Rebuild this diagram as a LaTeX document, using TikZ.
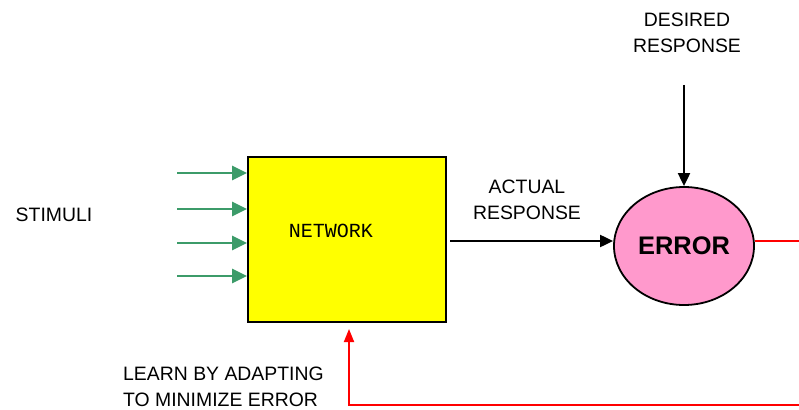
\documentclass[tikz,border=0pt]{standalone}
\usepackage{fontspec}
\setmainfont{Liberation Sans}
\newfontfamily\monofont{Liberation Mono}
\usetikzlibrary{arrows.meta,shapes.geometric}
\definecolor{netyellow}{RGB}{255,255,0}
\definecolor{errpink}{RGB}{255,153,204}
\definecolor{stimgreen}{RGB}{60,155,105}
\tikzset{
  label text/.style={align=center,font=\fontsize{19.4}{25.5}\selectfont,inner sep=0pt},
  stim arrow/.style={stimgreen,line width=2.6pt,-{Triangle[length=15pt,width=14pt]}},
  black arrow/.style={black,line width=2pt,-{Triangle[length=13pt,width=12pt]}},
  red arrow/.style={red,line width=1.8pt,-{Triangle[length=13pt,width=10pt]}},
}
\begin{document}
\begin{tikzpicture}[x=1pt,y=-1pt]
\useasboundingbox (0,0) rectangle (799,409);
\clip (0,0) rectangle (799,409);

% network block
\node[draw=black,line width=2pt,fill=netyellow,minimum width=198pt,minimum height=165pt,inner sep=0pt]
  (net) at (347,239.5) {};
\node[font=\monofont\fontsize{20}{24}\selectfont,inner sep=0pt] (netlabel) at (331,231) {NETWORK};

% error comparator
\node[draw=black,line width=1.8pt,fill=errpink,ellipse,minimum width=140pt,minimum height=118pt,inner sep=0pt]
  (err) at (684,246) {};
\node[font=\bfseries\fontsize{25.4}{30}\selectfont,inner sep=0pt] (errlabel) at (684,246) {ERROR};

% labels
\node[label text] (stim) at (54,215) {STIMULI};
\node[label text] (desired) at (687,33) {DESIRED\\RESPONSE};
\node[label text] (actual) at (527,200) {ACTUAL\\RESPONSE};
\node[label text,align=left,anchor=west] (learn) at (123,387) {LEARN BY ADAPTING\\TO MINIMIZE ERROR};

% stimulus inputs
\foreach \yy/\nm in {173/a,209/b,243/c,276/d}{
  \coordinate (s\nm) at (177,\yy);
  \draw[stim arrow] (s\nm) -- (net.west |- s\nm);
}

% desired response into comparator
\coordinate (dtop) at (684,85);
\draw[black arrow] (dtop) -- (err.north);

% actual response out of the network
\coordinate (alev) at (0,241);
\draw[black arrow] ([xshift=3pt]net.east |- alev) -- (err.west |- alev);

% error feedback loop
\coordinate (fbr) at (810,241);
\coordinate (fbb) at (810,405);
\coordinate (fbl) at (349,405);
\draw[red arrow] (err.east |- alev) -- (fbr) -- (fbb) -- (fbl) -- ([yshift=-6pt]net.south -| fbl);
\end{tikzpicture}
\end{document}
